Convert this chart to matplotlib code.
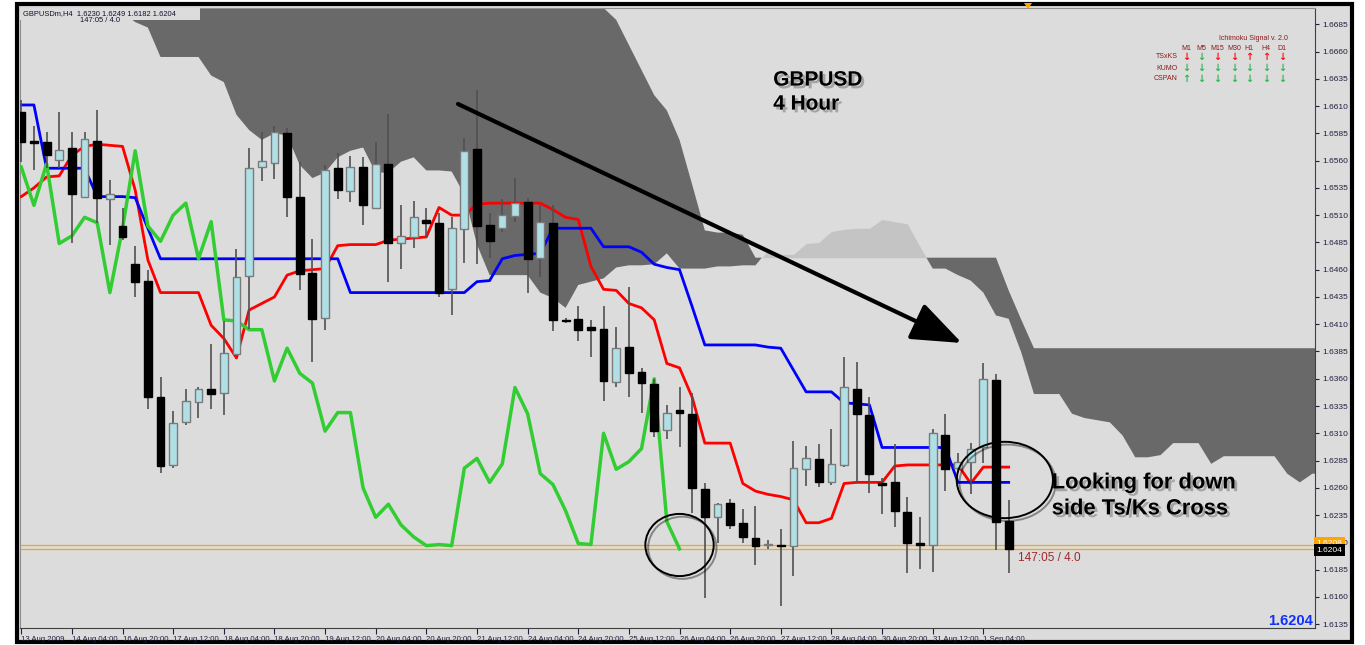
import numpy as np
import matplotlib.pyplot as plt
import matplotlib.patheffects as pe
from matplotlib.patches import Ellipse, Rectangle, Polygon

# GBPUSD H4 candles, 13 Aug - 1 Sep 2009
opens = [1.6605, 1.6578, 1.6577, 1.6561, 1.6572, 1.6527, 1.6578, 1.6525, 1.6500, 1.6465,
         1.6450, 1.6343, 1.6281, 1.6320, 1.6339, 1.6351, 1.6347, 1.6383, 1.6454, 1.6554,
         1.6558, 1.6585, 1.6527, 1.6457, 1.6416, 1.6553, 1.6532, 1.6554, 1.6517, 1.6557,
         1.6484, 1.6490, 1.6506, 1.6503, 1.6442, 1.6497, 1.6571, 1.6501, 1.6498, 1.6509,
         1.6522, 1.6471, 1.6503, 1.6414, 1.6415, 1.6407, 1.6406, 1.6357, 1.6389, 1.6366,
         1.6355, 1.6313, 1.6331, 1.6328, 1.6259, 1.6233, 1.6246, 1.6228, 1.6214, 1.6208,
         1.6208, 1.6207, 1.6277, 1.6286, 1.6265, 1.6281, 1.6351, 1.6327, 1.6264, 1.6265,
         1.6238, 1.6209, 1.6208, 1.6308, 1.6278, 1.6284, 1.6297, 1.6359, 1.6230]
highs = [1.6616, 1.6592, 1.6586, 1.6605, 1.6586, 1.6586, 1.6606, 1.6542, 1.6517, 1.6482,
         1.6460, 1.6362, 1.6330, 1.6351, 1.6352, 1.6392, 1.6413, 1.6479, 1.6572, 1.6586,
         1.6592, 1.6590, 1.6559, 1.6488, 1.6556, 1.6567, 1.6564, 1.6563, 1.6577, 1.6603,
         1.6519, 1.6523, 1.6517, 1.6512, 1.6508, 1.6581, 1.6625, 1.6512, 1.6525, 1.6544,
         1.6526, 1.6519, 1.6519, 1.6416, 1.6427, 1.6414, 1.6427, 1.6407, 1.6444, 1.6370,
         1.6360, 1.6336, 1.6352, 1.6347, 1.6264, 1.6246, 1.6250, 1.6241, 1.6243, 1.6212,
         1.6222, 1.6303, 1.6298, 1.6300, 1.6314, 1.6380, 1.6375, 1.6343, 1.6269, 1.6300,
         1.6252, 1.6233, 1.6314, 1.6328, 1.6292, 1.6301, 1.6374, 1.6364, 1.6249]
lows = [1.6559, 1.6551, 1.6553, 1.6553, 1.6484, 1.6526, 1.6503, 1.6483, 1.6487, 1.6435,
        1.6332, 1.6274, 1.6278, 1.6318, 1.6324, 1.6332, 1.6327, 1.6381, 1.6406, 1.6541,
        1.6543, 1.6508, 1.6441, 1.6375, 1.6405, 1.6525, 1.6522, 1.6501, 1.6516, 1.6449,
        1.6461, 1.6480, 1.6490, 1.6435, 1.6418, 1.6466, 1.6465, 1.6471, 1.6495, 1.6504,
        1.6439, 1.6453, 1.6404, 1.6411, 1.6395, 1.6380, 1.6340, 1.6352, 1.6343, 1.6329,
        1.6307, 1.6305, 1.6297, 1.6237, 1.6159, 1.6209, 1.6222, 1.6209, 1.6189, 1.6204,
        1.6152, 1.6179, 1.6262, 1.6261, 1.6263, 1.6279, 1.6264, 1.6255, 1.6236, 1.6224,
        1.6182, 1.6186, 1.6183, 1.6257, 1.6276, 1.6254, 1.6283, 1.6203, 1.6182]
closes = [1.6577, 1.6576, 1.6565, 1.6570, 1.6529, 1.6580, 1.6526, 1.6529, 1.6490, 1.6449,
          1.6343, 1.6280, 1.6319, 1.6340, 1.6351, 1.6346, 1.6384, 1.6453, 1.6553, 1.6560,
          1.6586, 1.6527, 1.6456, 1.6415, 1.6551, 1.6533, 1.6554, 1.6519, 1.6557, 1.6484,
          1.6491, 1.6508, 1.6503, 1.6439, 1.6498, 1.6569, 1.6500, 1.6486, 1.6510, 1.6521,
          1.6470, 1.6504, 1.6414, 1.6413, 1.6405, 1.6405, 1.6358, 1.6388, 1.6365, 1.6356,
          1.6312, 1.6329, 1.6329, 1.6260, 1.6233, 1.6245, 1.6226, 1.6215, 1.6207, 1.6208,
          1.6207, 1.6278, 1.6287, 1.6265, 1.6282, 1.6352, 1.6328, 1.6273, 1.6263, 1.6239,
          1.6209, 1.6208, 1.6310, 1.6277, 1.6284, 1.6296, 1.6360, 1.6229, 1.6204]

tenkan = [1.6527, 1.6535, 1.6545, 1.6546, 1.6565, 1.6573, 1.6575, 1.6574, 1.6573, 1.6533,
          1.6469, 1.6439, 1.6439, 1.6439, 1.6439, 1.6409, 1.6397, 1.6379, 1.6423, 1.6429,
          1.6435, 1.6455, 1.6459, 1.6460, 1.6461, 1.6482, 1.6483, 1.6483, 1.6483, 1.6487,
          1.6488, 1.6489, 1.6490, 1.6517, 1.6510, 1.6510, 1.6520, 1.6521, 1.6521, 1.6521,
          1.6521, 1.6521, 1.6515, 1.6508, 1.6506, 1.6463, 1.6442, 1.6441, 1.6429, 1.6425,
          1.6414, 1.6374, 1.6370, 1.6343, 1.6301, 1.6301, 1.6301, 1.6264, 1.6257, 1.6254,
          1.6252, 1.6249, 1.6228, 1.6228, 1.6232, 1.6264, 1.6265, 1.6265, 1.6265, 1.6280,
          1.6281, 1.6281, 1.6281, 1.6281, 1.6281, 1.6264, 1.6279, 1.6279, 1.6279]
kijun = [1.6611, 1.6611, 1.6553, 1.6553, 1.6553, 1.6553, 1.6527, 1.6527, 1.6527, 1.6526,
         1.6498, 1.6470, 1.6470, 1.6470, 1.6470, 1.6470, 1.6470, 1.6470, 1.6470, 1.6470,
         1.6470, 1.6470, 1.6470, 1.6470, 1.6470, 1.6470, 1.6439, 1.6439, 1.6439, 1.6439,
         1.6439, 1.6439, 1.6439, 1.6439, 1.6439, 1.6439, 1.6449, 1.6450, 1.6470, 1.6473,
         1.6474, 1.6475, 1.6498, 1.6498, 1.6498, 1.6498, 1.6481, 1.6481, 1.6481, 1.6476,
         1.6465, 1.6462, 1.6460, 1.6426, 1.6391, 1.6391, 1.6391, 1.6391, 1.6391, 1.6389,
         1.6388, 1.6368, 1.6348, 1.6348, 1.6348, 1.6338, 1.6337, 1.6336, 1.6297, 1.6297,
         1.6297, 1.6297, 1.6297, 1.6297, 1.6265, 1.6265, 1.6265, 1.6265, 1.6265]

# Kumo (senkou spans, already shifted forward), bars 8..103
kumo_start = 8
senkou_a = [1.6696, 1.6687, 1.6682, 1.6655, 1.6655, 1.6655, 1.6655, 1.6638, 1.6632, 1.6602,
            1.6588, 1.6579, 1.6585, 1.6583, 1.6556, 1.6544, 1.6549, 1.6563, 1.6569, 1.6572,
            1.6549, 1.6549, 1.6559, 1.6563, 1.6551, 1.6551, 1.6550, 1.6529, 1.6483, 1.6455,
            1.6455, 1.6455, 1.6455, 1.6439, 1.6434, 1.6425, 1.6446, 1.6449, 1.6452, 1.6462,
            1.6464, 1.6464, 1.6465, 1.6475, 1.6461, 1.6461, 1.6461, 1.6463, 1.6463, 1.6464,
            1.6464, 1.6478, 1.6474, 1.6474, 1.6484, 1.6485, 1.6495, 1.6497, 1.6498, 1.6498,
            1.6506, 1.6504, 1.6502, 1.6481, 1.6461, 1.6461, 1.6455, 1.6450, 1.6439, 1.6418,
            1.6415, 1.6384, 1.6346, 1.6346, 1.6346, 1.6328, 1.6324, 1.6322, 1.6320, 1.6308,
            1.6288, 1.6288, 1.6290, 1.6301, 1.6301, 1.6301, 1.6282, 1.6289, 1.6289, 1.6289,
            1.6289, 1.6289, 1.6273, 1.6265, 1.6273, 1.6273]
senkou_b = ([1.6735] * 38 +
            [1.6700, 1.6689, 1.6666, 1.6643, 1.6620, 1.6606, 1.6579, 1.6538, 1.6496, 1.6494,
             1.6494, 1.6492, 1.6471] +
            [1.6471] * 19 +
            [1.6441, 1.6414] +
            [1.6388] * 24)

tick_bars = [0, 4, 8, 12, 16, 20, 24, 28, 32, 36, 40, 44, 48, 52, 56, 60, 64, 68, 72, 76]
tick_dates = ['13 Aug 2009', '14 Aug 04:00', '16 Aug 20:00', '17 Aug 12:00', '18 Aug 04:00',
              '18 Aug 20:00', '19 Aug 12:00', '20 Aug 04:00', '20 Aug 20:00', '21 Aug 12:00',
              '24 Aug 04:00', '24 Aug 20:00', '25 Aug 12:00', '26 Aug 04:00', '26 Aug 20:00',
              '27 Aug 12:00', '28 Aug 04:00', '30 Aug 20:00', '31 Aug 12:00', '1 Sep 04:00']
price_ticks = [1.6135, 1.6160, 1.6185, 1.6210, 1.6235, 1.6260, 1.6285, 1.6310, 1.6335,
               1.6360, 1.6385, 1.6410, 1.6435, 1.6460, 1.6485, 1.6510, 1.6535, 1.6560,
               1.6585, 1.6610, 1.6635, 1.6660, 1.6685]
bid, ask = 1.6204, 1.6208

signal_cols = ['M1', 'M5', 'M15', 'M30', 'H1', 'H4', 'D1']
signal_rows = ['TSxKS', 'KUMO', 'CSPAN']
signal_dirs = [['dn', 'dn', 'dn', 'dn', 'up', 'up', 'dn'],
               ['dn', 'dn', 'dn', 'dn', 'dn', 'dn', 'dn'],
               ['up', 'dn', 'dn', 'dn', 'dn', 'dn', 'dn']]
signal_cols_clr = [['r', 'g', 'r', 'r', 'r', 'r', 'r'],
                   ['g'] * 7,
                   ['g'] * 7]

BG = '#dcdcdc'
SMALL = 'Liberation Sans'
W, H = 1365, 645
fig = plt.figure(figsize=(W / 100, H / 100), dpi=100)
fig.patch.set_facecolor('white')

# outer frame
fig.patches.append(Rectangle((17 / W, 3 / H), 1335 / W, 638 / H, transform=fig.transFigure,
                             facecolor=BG, edgecolor='black', lw=3, zorder=-5))
# chart shift marker at the top
fig.patches.append(Polygon([(1024 / W, 1 - 3 / H), (1032 / W, 1 - 3 / H), (1028 / W, 1 - 9 / H)],
                           closed=True, transform=fig.transFigure, facecolor='#ffa500',
                           edgecolor='none', zorder=5))

ax = fig.add_axes([20 / W, (H - 628) / H, 1295 / W, 620 / H])
ax.set_zorder(2)
ax.set_facecolor(BG)
ax.set_xlim(-0.1, 102.2)
ax.set_ylim(1.61315, 1.66999)

o = np.array(opens); h = np.array(highs); l = np.array(lows); c = np.array(closes)
x = np.arange(len(c))

# cloud
kx = np.arange(kumo_start, kumo_start + len(senkou_a))
sa = np.array(senkou_a); sb = np.array(senkou_b)
ax.fill_between(kx, sa, sb, where=sa <= sb, interpolate=True, color='#696969', lw=0, zorder=1)
ax.fill_between(kx, sa, sb, where=sa > sb, interpolate=True, color='#c4c4c4', lw=0, zorder=1)

# bid / ask
ax.axhline(ask, color='#ffa500', lw=0.9, zorder=2)
ax.axhline(bid, color='#ffa500', lw=0.9, zorder=2)

# ichimoku lines
ax.plot(x, tenkan, color='#ff0000', lw=2, zorder=3)
ax.plot(x, kijun, color='#0000ff', lw=2, zorder=3)
ax.plot(x[:len(c) - 26], c[26:], color='#32cd32', lw=2.5, zorder=3)

# candles
ax.vlines(x, l, h, color='#505050', lw=1.2, zorder=4)
bull = c >= o
body = np.maximum(np.abs(c - o), 0.00004)
ax.bar(x[bull], body[bull], bottom=np.minimum(o, c)[bull], width=0.62,
       color='#b0e0e6', edgecolor='#7a7a7a', lw=1, zorder=5)
ax.bar(x[~bull], body[~bull], bottom=np.minimum(o, c)[~bull], width=0.62,
       color='black', edgecolor='black', lw=1, zorder=5)

# axes styling
for s in ['left', 'top']:
    ax.spines[s].set_color('#909090')
ax.spines['right'].set_color('#404040')
ax.spines['bottom'].set_color('#404040')
ax.yaxis.tick_right()
ax.set_yticks(price_ticks)
ax.set_yticklabels([f'{p:.4f}' for p in price_ticks], fontsize=6, family=SMALL, color='#202040')
ax.tick_params(axis='y', length=3, width=0.8, pad=2, colors='#202040')
ax.set_xticks(tick_bars)
ax.set_xticklabels(tick_dates, fontsize=5.6, family=SMALL, color='#202040', ha='left')
ax.tick_params(axis='x', length=4, width=0.8, pad=2, colors='#202040')

shadow = [pe.withSimplePatchShadow(offset=(2, -2), shadow_rgbFace='#808080', alpha=0.6)]

ax.text(59.4, 1.66338, 'GBPUSD', fontsize=15, fontweight='bold', family='Liberation Sans',
        va='center', zorder=7, path_effects=shadow)
ax.text(59.4, 1.66118, '4 Hour', fontsize=15, fontweight='bold', family='Liberation Sans',
        va='center', zorder=7, path_effects=shadow)
ax.text(81.4, 1.62645, 'Looking for down', fontsize=15.8, fontweight='bold',
        family='Liberation Sans', va='center', zorder=7, path_effects=shadow)
ax.text(81.4, 1.62407, 'side Ts/Ks Cross', fontsize=15.8, fontweight='bold',
        family='Liberation Sans', va='center', zorder=7, path_effects=shadow)

ax.annotate('', xy=(74.3, 1.63928), xytext=(34.5, 1.66119),
            arrowprops=dict(arrowstyle='-|>,head_length=1.3,head_width=0.5', lw=3,
                            color='black', mutation_scale=24, shrinkA=0, shrinkB=0),
            zorder=7)

for cx, cy, ew, eh in [(52.0, 1.62076, 5.4, 0.0057), (77.7, 1.62672, 7.6, 0.0070)]:
    ax.add_patch(Ellipse((cx, cy), ew, eh, fill=False, ec='black', lw=1.4, zorder=7,
                         path_effects=[pe.SimpleLineShadow(offset=(2, -2), alpha=0.4),
                                       pe.Normal()]))

ax.text(78.7, 1.61957, '147:05 / 4.0', fontsize=8.5, family=SMALL, color='#a0282d',
        va='center', zorder=7)
ax.text(0.9985, 0.012, '1.6204', transform=ax.transAxes, fontsize=10.5, fontweight='bold',
        family=SMALL, color='#1030ff', ha='right', va='center', zorder=7)

# header
ax.add_patch(Rectangle((0, 1 - 12 / 620), 180 / 1295, 12 / 620, transform=ax.transAxes,
                       facecolor=BG, lw=0, zorder=6))
ax.text(3 / 1295, 1 - 5.5 / 620, 'GBPUSDm,H4  1.6230 1.6249 1.6182 1.6204', transform=ax.transAxes,
        fontsize=5.4, family=SMALL, color='#101030', va='center', zorder=7)
ax.text(60 / 1295, 1 - 13 / 620, '147:05 / 4.0', transform=ax.transAxes,
        fontsize=5.4, family=SMALL, color='#101030', va='center', zorder=7)

# price labels on the right axis (they hide the 1.6210 tick label, as in the terminal)
ax.text(1.001, ask + 0.0001, '1.6208', transform=ax.get_yaxis_transform(), fontsize=6,
        family=SMALL, color='white', va='center', ha='left', zorder=8, clip_on=False,
        bbox=dict(boxstyle='square,pad=0.3', fc='#ffa500', ec='none'))
ax.text(1.001, bid - 0.0001, '1.6204', transform=ax.get_yaxis_transform(), fontsize=6,
        family=SMALL, color='white', va='center', ha='left', zorder=9, clip_on=False,
        bbox=dict(boxstyle='square,pad=0.3', fc='black', ec='none'))

# signal table
red, green, dred = '#ff1010', '#2eb84e', '#8b1a1a'
col_x = [1186, 1201, 1217, 1234, 1249, 1266, 1282]
fig.text(1253 / W, 1 - 39 / H, 'Ichimoku Signal v. 2.0', fontsize=5, family=SMALL, color=dred,
         ha='center', va='center')
for cx, name in zip(col_x, signal_cols):
    fig.text(cx / W, 1 - 48 / H, name, fontsize=5, family=SMALL, color=dred, ha='center', va='center')
for r, (name, ry) in enumerate(zip(signal_rows, [57, 68, 79])):
    fig.text(1178 / W, 1 - ry / H, name, fontsize=5, family=SMALL, color=dred, ha='right', va='center')
    for cx, d, cl in zip(col_x, signal_dirs[r], signal_cols_clr[r]):
        fig.text(cx / W, 1 - ry / H, '\u2193' if d == 'dn' else '\u2191', fontsize=7,
                 fontweight='bold', color=red if cl == 'r' else green, ha='center', va='center')

fig.savefig('out.png', dpi=100)
